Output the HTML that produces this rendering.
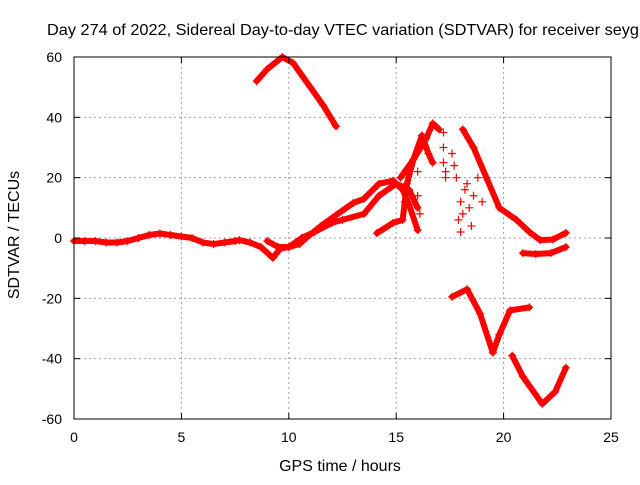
<!DOCTYPE html>
<html><head><meta charset="utf-8"><style>
body{margin:0;background:#fff;}
svg text{font-family:"Liberation Sans",sans-serif;font-size:14px;fill:#000;}
svg text.big{font-size:16px;}
</style></head><body>
<svg id="chart" width="640" height="480" xmlns="http://www.w3.org/2000/svg">
<rect width="640" height="480" fill="#fff"/>
<g id="grid"></g>
<g id="series"></g>
<rect x="74" y="57" width="537" height="362" fill="none" stroke="#000" stroke-width="1"/>
<g id="ticks"></g>
<text class="big" x="47" y="35" textLength="592" lengthAdjust="spacingAndGlyphs">Day 274 of 2022, Sidereal Day-to-day VTEC variation (SDTVAR) for receiver seyg</text>
<text class="big" x="340" y="471" text-anchor="middle">GPS time / hours</text>
<text class="big" transform="translate(19,235) rotate(-90)" text-anchor="middle">SDTVAR / TECUs</text>
</svg>
<script>
const xTicks=[0,5,10,15,20,25];
const yTicks=[-60,-40,-20,0,20,40,60];
const segBaseline=[[0,-1],[0.5,-1],[1,-1],[1.5,-1.5],[2,-1.5],[2.5,-1],[3,0],[3.5,1],[4,1.5],[4.5,1],[5,0.5],[5.5,0],[6,-1.5],[6.5,-2],[7,-1.5],[7.5,-1],[7.7,-0.7],[8.2,-1.5],[8.7,-3],[9.26,-6.6],[9.6,-3.5],[10,-3],[10.5,-2],[10.85,0.3],[11.5,4],[12.2,7.6],[13,11.6],[13.5,13],[14.2,18],[14.85,19],[15.3,16],[15.6,11],[16,2.6]];
const segBranchA=[[9,-1],[9.5,-3],[10,-3],[10.6,0],[11.2,2],[12,5],[12.5,6],[13.5,8],[14.2,14],[15,18],[15.6,16],[16,10]];
const segBranchB=[[14.1,1.6],[14.85,5],[15.3,6],[15.4,12],[15.5,18],[15.8,26],[16.4,33],[16.7,38],[17,36]];
const segBranchC=[[15.2,20],[15.8,26],[16.2,34],[16.5,28],[16.7,25]];
const segTopArc=[[8.5,52],[9,56],[9.7,60],[10.2,58],[11,50],[11.6,44],[12.2,37]];
const segRight=[[18.1,36],[18.6,30],[19.2,20],[19.8,10],[20.6,6],[21.2,2],[21.7,-0.7],[22.3,-0.5],[22.9,1.7]];
const segRightLow=[[20.9,-5],[21.5,-5.3],[22.2,-5],[22.9,-3]];
const segDipA=[[17.6,-19.5],[18.3,-17],[18.9,-25],[19.5,-38],[19.8,-32],[20.3,-24],[21.2,-23]];
const segDipB=[[20.4,-39],[20.9,-46],[21.8,-55],[22.4,-51],[22.9,-43]];
const scatterHours=[17.2,17.2,17.2,17.3,17.3,17.6,17.7,17.8,18.0,18.1,18.2,18.3,18.4,18.5,16.0,16.0,16.1,17.9,18.0,18.6,18.8,19.0];
const scatterValues=[35,30,25,22,20,28,24,20,12,8,16,18,10,4,22,14,8,6,2,14,20,12];
const X0=74,X1=611,Y0=419,Y1=57;
const sx=h=>X0+(h-0)/(25-0)*(X1-X0);
const sy=v=>Y0-(v+60)/120*(Y0-Y1);
const NS="http://www.w3.org/2000/svg";
function mk(t,a){const e=document.createElementNS(NS,t);for(const k in a)e.setAttribute(k,a[k]);return e;}
const grid=document.getElementById('grid'),ticks=document.getElementById('ticks'),ser=document.getElementById('series');
xTicks.forEach(t=>{const x=sx(t);
 if(t>0&&t<25){const g=mk('line',{x1:x,x2:x,y1:Y1,y2:Y0,stroke:'#a0a0a0','stroke-dasharray':'2,3'});grid.appendChild(g);}
 const a=mk('line',{x1:x,x2:x,y1:Y0,y2:Y0-6,stroke:'#000'});ticks.appendChild(a);
 const b=mk('line',{x1:x,x2:x,y1:Y1,y2:Y1+6,stroke:'#000'});ticks.appendChild(b);
 const l=mk('text',{x:x,y:442,'text-anchor':'middle'});l.textContent=t;ticks.appendChild(l);});
yTicks.forEach(t=>{const y=sy(t);
 if(t>-60&&t<60){const g=mk('line',{x1:X0,x2:X1,y1:y,y2:y,stroke:'#a0a0a0','stroke-dasharray':'2,3'});grid.appendChild(g);}
 const a=mk('line',{x1:X0,x2:X0+6,y1:y,y2:y,stroke:'#000'});ticks.appendChild(a);
 const b=mk('line',{x1:X1,x2:X1-6,y1:y,y2:y,stroke:'#000'});ticks.appendChild(b);
 const l=mk('text',{x:62,y:y+5,'text-anchor':'end'});l.textContent=t;ticks.appendChild(l);});
function plus(x,y,name){const p=mk('path',{d:`M${x-4} ${y}H${x+4}M${x} ${y-4}V${y+4}`,stroke:'#f00','stroke-width':1.2});ser.appendChild(p);}
function seg(data,name){
 const pl=mk('polyline',{points:data.map(d=>sx(d[0])+','+sy(d[1])).join(' '),fill:'none',stroke:'#f00','stroke-width':6,'stroke-linejoin':'round','stroke-linecap':'round'});
 
 
 ser.appendChild(pl);
 data.forEach(d=>plus(sx(d[0]),sy(d[1]),name+'-point'));}
seg(segBaseline,'trace-baseline');seg(segBranchA,'trace-branch-a');seg(segBranchB,'trace-branch-b');seg(segBranchC,'trace-branch-c');
seg(segTopArc,'trace-top-arc');seg(segRight,'trace-right');seg(segRightLow,'trace-right-low');seg(segDipA,'trace-dip-a');seg(segDipB,'trace-dip-b');
scatterHours.forEach((h,i)=>plus(sx(h),sy(scatterValues[i]),'scatter-point'));
</script>
</body></html>
